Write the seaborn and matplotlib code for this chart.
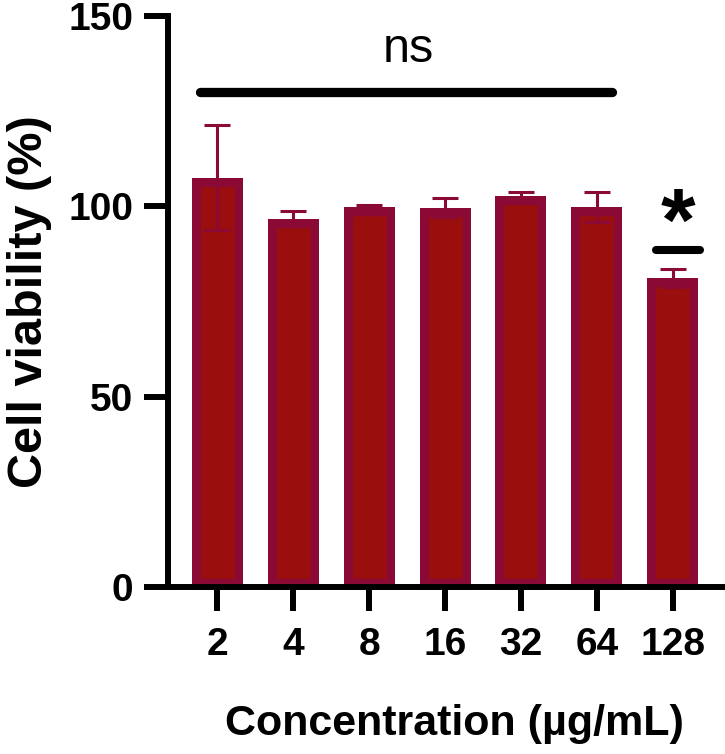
import matplotlib
matplotlib.use("Agg")
import matplotlib.pyplot as plt
import seaborn as sns
import pandas as pd

# ---- data ----
concentrations = ["2", "4", "8", "16", "32", "64", "128"]
viability_mean = [107.5, 96.8, 99.9, 99.6, 102.8, 99.9, 81.1]
viability_sd = [13.8, 1.9, 0.5, 2.5, 0.9, 3.9, 2.4]
y_ticks = [0, 50, 100, 150]

sns.set_style("ticks")
plt.rcParams["font.family"] = ["Liberation Sans", "DejaVu Sans"]
plt.rcParams["text.color"] = "black"
plt.rcParams["axes.labelcolor"] = "black"
plt.rcParams["xtick.color"] = "black"
plt.rcParams["ytick.color"] = "black"

face = "#9a0e0e"
edge = "#8b0a35"

df = pd.DataFrame({"conc": concentrations, "viab": viability_mean})

fig = plt.figure(figsize=(7.25, 7.54), dpi=100)
ax = fig.add_axes([168 / 725, 167 / 754, (721.7 - 168) / 725, (587 - 16) / 754])

sns.barplot(data=df, x="conc", y="viab", order=concentrations, color=face,
            width=0.672, errorbar=None, ax=ax, saturation=1)
for p in ax.patches:
    p.set_facecolor(face)
    p.set_edgecolor(edge)
    p.set_linewidth(12.5)
    p.set_clip_path(p)
    p.set_zorder(2)

xs = list(range(len(concentrations)))
ax.errorbar(xs, viability_mean, yerr=viability_sd, fmt="none", ecolor=edge,
            elinewidth=2.2, capsize=9.7, capthick=2.2, zorder=3)

# significance annotations
ax.plot([-0.23, 5.2], [130.1, 130.1], color="black", lw=6.7,
        solid_capstyle="round", zorder=4)
ax.text(2.52, 138.0, "ns", ha="center", va="baseline", fontsize=35,
        color="black")
ax.plot([5.776, 6.36], [88.5, 88.5], color="black", lw=5.8,
        solid_capstyle="round", zorder=4)
ax.text(6.07, 88.5, "*", ha="center", va="baseline", fontsize=64,
        fontweight="bold", color="black")

ax.set_xlim(-0.65, 6.645)
ax.set_ylim(0, 150)
ax.set_yticks(y_ticks)
ax.set_yticklabels([str(t) for t in y_ticks])

for s in ["top", "right"]:
    ax.spines[s].set_visible(False)
for s in ["left", "bottom"]:
    ax.spines[s].set_linewidth(4.3)
    ax.spines[s].set_color("black")

ax.tick_params(axis="both", which="major", length=17, width=4.3,
               color="black", labelcolor="black", labelsize=28,
               direction="out")
ax.tick_params(axis="y", pad=8)
ax.tick_params(axis="x", pad=12)
for lab in ax.get_xticklabels() + ax.get_yticklabels():
    lab.set_fontweight("bold")

ax.set_xlabel("Concentration (µg/mL)", fontsize=31, fontweight="bold",
              color="black")
ax.set_ylabel("Cell viability (%)", fontsize=35, fontweight="bold",
              color="black")
ax.xaxis.set_label_coords(0.517, -0.205)
ax.yaxis.set_label_coords(-0.21, 0.5)

fig.savefig("out.png", dpi=100)
